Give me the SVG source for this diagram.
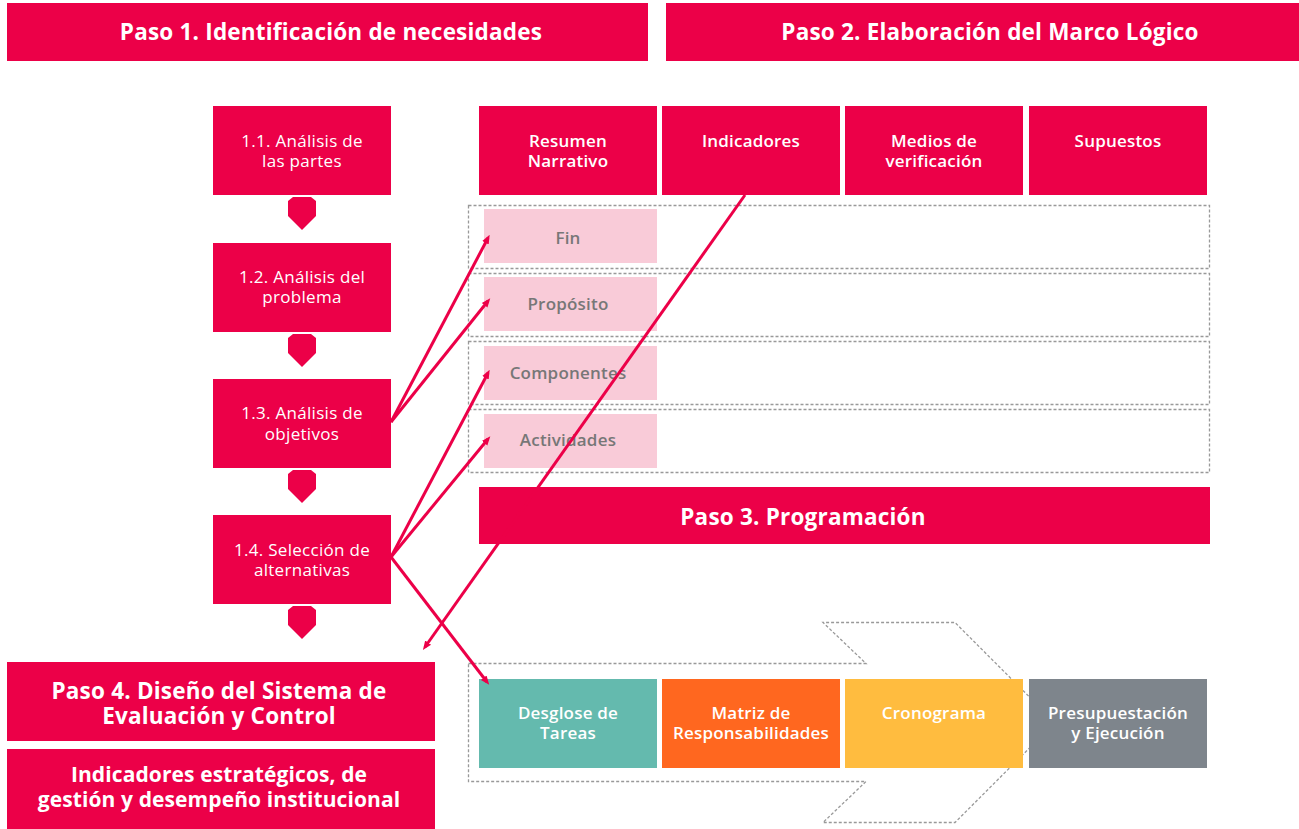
<svg xmlns="http://www.w3.org/2000/svg" width="1299" height="829" viewBox="0 0 1299 829">
<style>
.red{fill:#EC0048}
.hdr{font-family:"Open Sans","Liberation Sans",sans-serif;font-weight:700;font-size:22.5px;letter-spacing:0.2px;fill:#fff;text-anchor:middle}
.hdr2{font-family:"Open Sans","Liberation Sans",sans-serif;font-weight:700;font-size:21px;letter-spacing:0.1px;fill:#fff;text-anchor:middle}
.t{font-family:"Open Sans","Liberation Sans",sans-serif;font-weight:400;font-size:17px;letter-spacing:0.3px;fill:#fff;text-anchor:middle}
.tb{font-family:"Open Sans","Liberation Sans",sans-serif;font-weight:600;font-size:17px;letter-spacing:0.2px;fill:#fff;text-anchor:middle}
.pk{fill:#F9CBD8}
.pt{font-family:"Open Sans","Liberation Sans",sans-serif;font-weight:600;font-size:17px;letter-spacing:0.2px;fill:#777;text-anchor:middle}
.dot{fill:none;stroke:#999;stroke-width:1.3;stroke-dasharray:3 2}
.con{fill:none;stroke:#EC0048;stroke-width:3}
</style>
<defs>
<marker id="ah" viewBox="0 0 10 10" refX="6" refY="5" markerWidth="3" markerHeight="3" orient="auto">
<path d="M0,1 L10,5 L0,9 Z" fill="#EC0048"/>
</marker>
<polygon id="dn" points="-14,4 -9,0 9,0 14,4 14,19 0,33 -14,19"/>
</defs>

<g id="paso1"><rect class="red" x="7" y="3" width="641" height="58"/><text class="hdr" x="331" y="40">Paso 1. Identificación de necesidades</text></g>
<g id="paso2"><rect class="red" x="666" y="3" width="633" height="58"/><text class="hdr" x="990" y="40">Paso 2. Elaboración del Marco Lógico</text></g>

<g id="n11"><rect class="red" x="213" y="106" width="178" height="89"/><text class="t" x="302" y="147">1.1. Análisis de</text><text class="t" x="302" y="167">las partes</text></g>
<g id="n12"><rect class="red" x="213" y="243" width="178" height="89"/><text class="t" x="302" y="283">1.2. Análisis del</text><text class="t" x="302" y="303">problema</text></g>
<g id="n13"><rect class="red" x="213" y="379" width="178" height="89"/><text class="t" x="302" y="419">1.3. Análisis de</text><text class="t" x="302" y="440">objetivos</text></g>
<g id="n14"><rect class="red" x="213" y="515" width="178" height="89"/><text class="t" x="302" y="556">1.4. Selección de</text><text class="t" x="302" y="576">alternativas</text></g>
<g id="arrows-down" class="red">
<use href="#dn" x="302" y="197"/><use href="#dn" x="302" y="334"/><use href="#dn" x="302" y="470"/><use href="#dn" x="302" y="606"/>
</g>

<g id="col-resumen"><rect class="red" x="479" y="106" width="178" height="89"/><text class="tb" x="568" y="147">Resumen</text><text class="tb" x="568" y="167">Narrativo</text></g>
<g id="col-indicadores"><rect class="red" x="662" y="106" width="178" height="89"/><text class="tb" x="751" y="147">Indicadores</text></g>
<g id="col-medios"><rect class="red" x="845" y="106" width="178" height="89"/><text class="tb" x="934" y="147">Medios de</text><text class="tb" x="934" y="167">verificación</text></g>
<g id="col-supuestos"><rect class="red" x="1029" y="106" width="178" height="89"/><text class="tb" x="1118" y="147">Supuestos</text></g>

<g id="rows">
<rect class="dot" x="468.5" y="205.5" width="741" height="63"/>
<rect class="dot" x="468.5" y="273.5" width="741" height="63"/>
<rect class="dot" x="468.5" y="341.5" width="741" height="63"/>
<rect class="dot" x="468.5" y="409.5" width="741" height="63"/>
</g>
<g id="fin"><rect class="pk" x="484" y="209" width="173" height="54"/><text class="pt" x="568" y="244">Fin</text></g>
<g id="proposito"><rect class="pk" x="484" y="277" width="173" height="54"/><text class="pt" x="568" y="310">Propósito</text></g>
<g id="componentes"><rect class="pk" x="484" y="346" width="173" height="54"/><text class="pt" x="568" y="379">Componentes</text></g>
<g id="actividades"><rect class="pk" x="484" y="414" width="173" height="54"/><text class="pt" x="568" y="446">Actividades</text></g>

<g id="paso3"><rect class="red" x="479" y="487" width="731" height="57"/><text class="hdr" x="803" y="525">Paso 3. Programación</text></g>

<g id="big-arrow"><polygon class="dot" points="468.5,663.5 866,663.5 823,622.5 955,622.5 1055,722.5 955,822.5 823,822.5 866,781.5 468.5,781.5"/></g>

<g id="desglose"><rect fill="#64BAAE" x="479" y="679" width="178" height="89"/><text class="tb" x="568" y="719">Desglose de</text><text class="tb" x="568" y="739">Tareas</text></g>
<g id="matriz"><rect fill="#FF671F" x="662" y="679" width="178" height="89"/><text class="tb" x="751" y="719">Matriz de</text><text class="tb" x="751" y="739">Responsabilidades</text></g>
<g id="cronograma"><rect fill="#FFBC3F" x="845" y="679" width="178" height="89"/><text class="tb" x="934" y="719">Cronograma</text></g>
<g id="presupuestacion"><rect fill="#7E858C" x="1029" y="679" width="178" height="89"/><text class="tb" x="1118" y="719">Presupuestación</text><text class="tb" x="1118" y="739">y Ejecución</text></g>

<g id="paso4"><rect class="red" x="7" y="662" width="428" height="79"/><text class="hdr" x="219" y="699">Paso 4. Diseño del Sistema de</text><text class="hdr" x="219" y="724">Evaluación y Control</text></g>
<g id="indicadores-est"><rect class="red" x="7" y="749" width="428" height="80"/><text class="hdr2" x="219" y="782">Indicadores estratégicos, de</text><text class="hdr2" x="219" y="807">gestión y desempeño institucional</text></g>

<g id="connectors">
<line class="con" x1="391" y1="422" x2="488" y2="238" marker-end="url(#ah)"/>
<line class="con" x1="391" y1="422" x2="488" y2="301" marker-end="url(#ah)"/>
<line class="con" x1="391" y1="557" x2="488" y2="373" marker-end="url(#ah)"/>
<line class="con" x1="391" y1="557" x2="488" y2="439" marker-end="url(#ah)"/>
<line class="con" x1="391" y1="557" x2="487" y2="682" marker-end="url(#ah)"/>
<line class="con" x1="745" y1="195" x2="425" y2="647" marker-end="url(#ah)"/>
</g>
</svg>
